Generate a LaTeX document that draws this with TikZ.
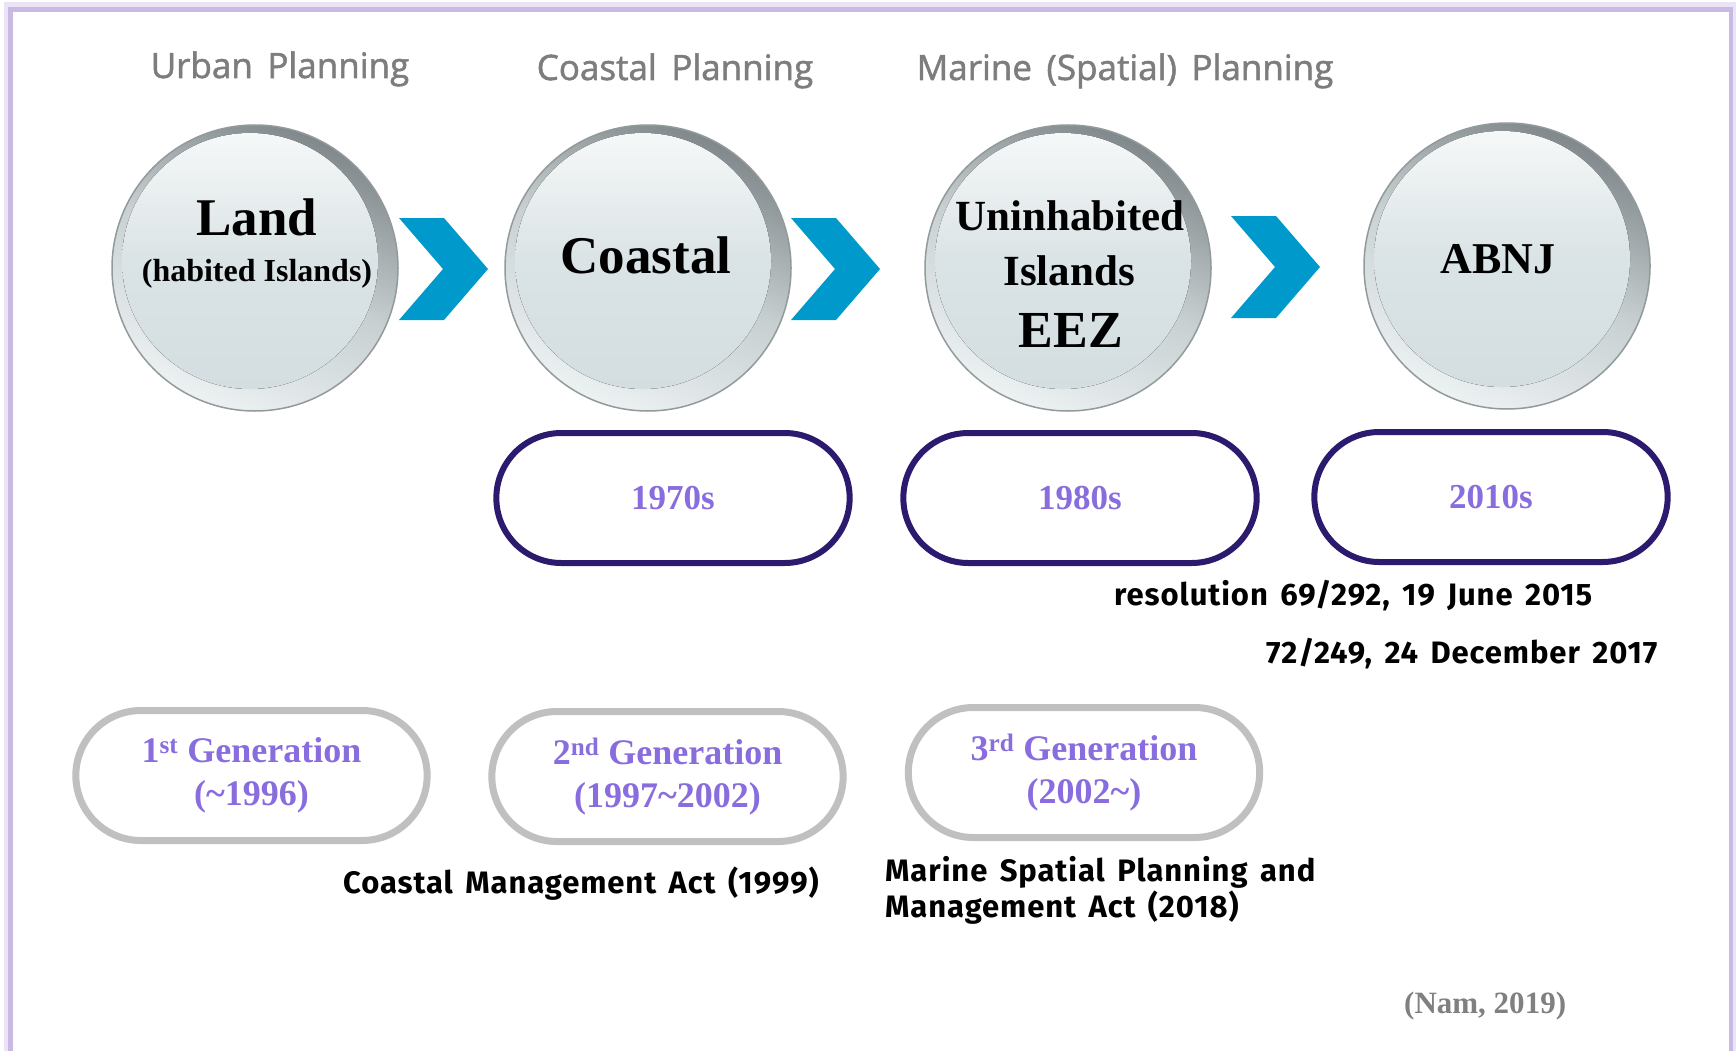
\documentclass[tikz,border=0pt]{standalone}
\usepackage{fontspec}
\setmainfont{Liberation Serif}
\newfontfamily\headf{Open Sans}[FakeBold=1.5, WordSpace=1.6]
\newfontfamily\blkf{Fira Sans}[WordSpace=1.5, LetterSpace=3]
\usetikzlibrary{shapes.misc,calc}
\definecolor{framecol}{RGB}{200,186,228}
\definecolor{framelight}{RGB}{234,228,245}
\definecolor{headgray}{RGB}{125,125,125}
\definecolor{chevblue}{RGB}{0,153,204}
\definecolor{navy}{RGB}{44,26,110}
\definecolor{purp}{RGB}{137,108,222}
\definecolor{ovalgray}{RGB}{192,192,192}
\definecolor{rimdark}{RGB}{128,136,139}
\definecolor{rimmid}{RGB}{200,208,210}
\definecolor{rimlight}{RGB}{236,241,242}
\definecolor{inntop}{RGB}{246,248,248}
\definecolor{innmid}{RGB}{218,227,229}
\definecolor{innbot}{RGB}{212,222,224}
\definecolor{namgray}{RGB}{128,128,128}
\begin{document}
\begin{tikzpicture}[x=1pt,y=-1pt,
  sphere/.style={circle, minimum size=286pt, inner sep=0pt,
    top color=rimdark, bottom color=rimlight, middle color=rimmid,
    shading angle=-25, draw=rimdark!85, line width=1.5pt},
  innerdisk/.style={top color=inntop, bottom color=innbot, middle color=innmid},
  head/.style={font=\headf\fontsize{35}{40}\selectfont, text=headgray, inner sep=0pt, anchor=base},
  ctext/.style={font=\bfseries, text=black, inner sep=0pt, anchor=base},
  decade/.style={rounded rectangle, minimum width=360pt, minimum height=130pt,
    draw=navy, line width=6pt, fill=white, text=purp,
    font=\bfseries\fontsize{35}{42}\selectfont},
  gen/.style={rounded rectangle, minimum width=358pt, minimum height=130pt,
    draw=ovalgray, line width=7pt, fill=white, text=purp, align=center,
    font=\bfseries\fontsize{36}{43}\selectfont},
  blk/.style={font=\blkf\bfseries\fontsize{31}{36}\selectfont, text=black,
    inner sep=0pt, anchor=base west, align=left},
  chev/.pic={\fill[chevblue] (0,-51) -- (45,-51) -- (89,0) -- (45,51) -- (0,51) -- (44,0) -- cycle;}
]
\useasboundingbox (0,0) rectangle (1736,1051);
\fill[white] (0,0) rectangle (1736,1051);
% frame
\draw[framelight, line width=6pt] (6.5,1060) -- (6.5,5.5) -- (1734.5,5.5) -- (1734.5,1060);
\draw[framecol, line width=4.5pt] (10.5,1060) -- (10.5,9.5) -- (1731,9.5) -- (1731,1060);

% headings
\node[head] (hurban) at (280,78) {Urban Planning};
\node[head] (hcoast) at (675,80) {Coastal Planning};
\node[head] (hmarine) at (1125,80) {Marine (Spatial) Planning};

% spheres
\foreach \nm/\px/\py in {land/255/268, coast/648/268, unin/1068/268, abnj/1507/266}{
  \node[sphere] (\nm) at (\px,\py) {};
  \fill[innerdisk] ($(\nm.center)+(-5,-7)$) circle[radius=128];
}

% chevrons
\pic at (399,269) {chev};
\pic at (791,269) {chev};
\pic at (1231,267) {chev};

% sphere texts
\node[ctext, font=\bfseries\fontsize{53}{60}\selectfont] (landA) at (257,235) {Land};
\node[ctext, font=\bfseries\fontsize{32}{38}\selectfont] (landB) at (257,281) {(habited Islands)};
\node[ctext, font=\bfseries\fontsize{53}{60}\selectfont] (coastT) at (646,273) {Coastal};
\node[ctext, font=\bfseries\fontsize{43}{50}\selectfont] (uninA) at (1070,230) {Uninhabited};
\node[ctext, font=\bfseries\fontsize{43}{50}\selectfont] (uninB) at (1069,285) {Islands};
\node[ctext, font=\bfseries\fontsize{52}{60}\selectfont] (uninC) at (1071,347) {EEZ};
\node[ctext, font=\bfseries\fontsize{44}{50}\selectfont] (abnjT) at (1498,273) {ABNJ};

% decades
\node[decade] (d70) at (673,498) {1970s};
\node[decade] (d80) at (1080,498) {1980s};
\begin{scope}
  \clip (0,0) rectangle (1672,1051);
  \node[decade] (d10) at (1491,497) {2010s};
\end{scope}

% resolutions
\node[blk] (res1) at (1114,605) {resolution 69/292, 19 June 2015};
\node[blk] (res2) at (1266,663) {72/249, 24 December 2017};

% generations
\node[gen] (g1) at (251.5,775.5) {1\textsuperscript{st} Generation\\(\textasciitilde1996)};
\node[gen] (g2) at (667.5,776.5) {2\textsuperscript{nd} Generation\\(1997\textasciitilde2002)};
\node[gen] (g3) at (1084,772.5) {3\textsuperscript{rd} Generation\\(2002\textasciitilde)};

% acts
\node[blk] (act1) at (343,893) {Coastal Management Act (1999)};
\node[blk] (act2a) at (885,881) {Marine Spatial Planning and};
\node[blk] (act2b) at (885,917) {Management Act (2018)};

% source
\node[ctext, font=\bfseries\fontsize{31}{36}\selectfont, text=namgray, anchor=base west] (src) at (1404,1013) {(Nam, 2019)};
\end{tikzpicture}
\end{document}
